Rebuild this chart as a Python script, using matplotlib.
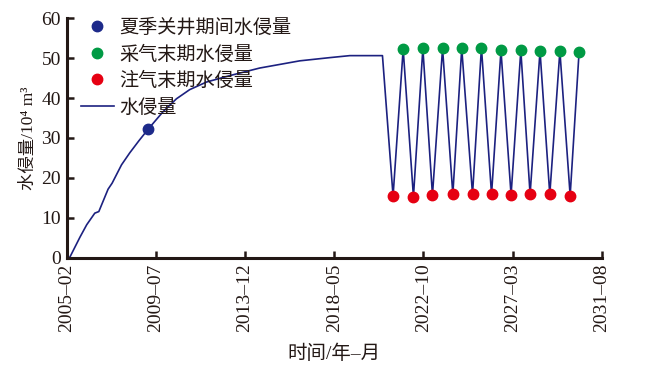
import matplotlib
matplotlib.use("Agg")
import matplotlib.pyplot as plt
from matplotlib.lines import Line2D

plt.rcParams['font.family'] = ['Liberation Serif', 'Noto Sans CJK SC']

# x 值: 自 2005-02 起的月数
curve_month = [0, 2.0, 8.0, 12.0, 16.8, 19.2, 24.7, 27.1, 32.7, 37.6, 43.0, 48.5, 57.4,
               65.3, 73.2, 83.2, 97.0, 114.8, 138.6, 156.4, 168.3, 187.7]
curve_val = [0, 0.2, 5.2, 8.3, 11.2, 11.6, 17.2, 18.7, 23.3, 26.3, 29.3, 32.2, 36.6,
             39.8, 42.1, 44.0, 45.6, 47.5, 49.3, 50.1, 50.6, 50.6]

shutin_month = [48.5]
shutin_val = [32.2]

inj_month = [194.0, 206.1, 217.4, 229.5, 241.2, 252.5, 264.1, 275.4, 287.1, 299.2]
inj_val = [15.5, 15.3, 15.7, 15.9, 15.9, 15.9, 15.75, 15.9, 15.9, 15.6]

prod_month = [200.0, 211.7, 223.4, 234.8, 246.5, 258.1, 269.9, 281.3, 293.1, 304.5]
prod_val = [52.25, 52.4, 52.4, 52.4, 52.6, 51.9, 51.9, 51.75, 51.75, 51.5]

tick_month = [0, 53, 106, 159, 212, 265, 318]
tick_labels = ['2005–02', '2009–07', '2013–12', '2018–05', '2022–10', '2027–03', '2031–08']

line_c = '#1c2180'
blue_c = '#1d2a8a'
green_c = '#009a44'
red_c = '#e60012'
txt_c = '#231815'

# 连成一条线: 先曲线, 再注采交替
line_x = list(curve_month)
line_y = list(curve_val)
for i in range(len(inj_month)):
    line_x += [inj_month[i], prod_month[i]]
    line_y += [inj_val[i], prod_val[i]]

fig = plt.figure(figsize=(6.52, 3.76), dpi=100)
ax = fig.add_axes([0.102, 0.314, 0.821, 0.638])

ax.plot(line_x, line_y, color=line_c, lw=1.2, zorder=2)
ax.plot(shutin_month, shutin_val, 'o', color=blue_c, ms=7.5, zorder=3)
ax.plot(prod_month, prod_val, 'o', color=green_c, ms=7.5, zorder=3)
ax.plot(inj_month, inj_val, 'o', color=red_c, ms=7.5, zorder=3)

ax.set_xlim(0, 318)
ax.set_ylim(0, 60)
ax.set_xticks(tick_month)
ax.set_xticklabels(tick_labels, rotation=90, fontsize=14, color=txt_c)
ax.set_yticks(range(0, 61, 10))
ax.tick_params(axis='y', labelsize=14, labelcolor=txt_c)
ax.tick_params(direction='in', length=5, width=1.8, color=txt_c, pad=4)

for s in ['top', 'right']:
    ax.spines[s].set_visible(False)
for s in ['left', 'bottom']:
    ax.spines[s].set_linewidth(2.2)
    ax.spines[s].set_color(txt_c)

ax.set_ylabel('水侵量/10⁴ m³', fontsize=12.5, color=txt_c, labelpad=3)
ax.set_xlabel('时间/年–月', fontsize=14, color=txt_c, labelpad=9)

handles = [
    Line2D([], [], ls='', marker='o', color=blue_c, ms=7.5),
    Line2D([], [], ls='', marker='o', color=green_c, ms=7.5),
    Line2D([], [], ls='', marker='o', color=red_c, ms=7.5),
    Line2D([], [], color=line_c, lw=1.2),
]
labels = ['夏季关井期间水侵量', '采气末期水侵量', '注气末期水侵量', '水侵量']
ax.legend(handles, labels, loc='upper left', bbox_to_anchor=(-0.005, 1.07), frameon=False,
          fontsize=13.8, labelspacing=0.44, handlelength=1.7, handletextpad=0.3,
          labelcolor=txt_c)

fig.savefig('out.png', dpi=100)
